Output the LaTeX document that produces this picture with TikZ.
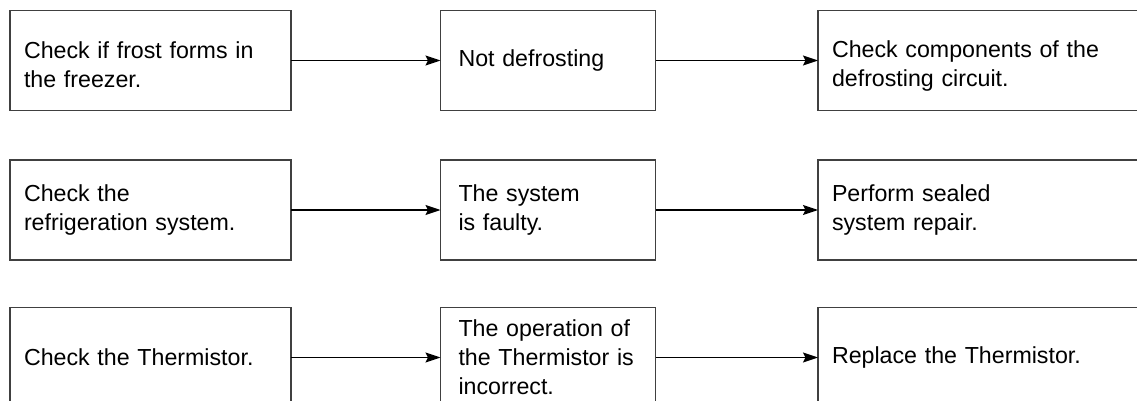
\documentclass[tikz,border=0pt]{standalone}
\usepackage{fontspec}
\setmainfont{Liberation Sans}
\usepackage{tikz}
\usetikzlibrary{arrows.meta}

\tikzset{
  stepbox/.style={draw=black!75, line width=1.3pt, anchor=west, outer sep=0pt,
    minimum height=100pt, inner ysep=0pt, align=left,
    font=\fontsize{23.2}{29}\selectfont},
  widebox/.style={stepbox, text width=253pt, inner xsep=14pt},
  midbox/.style={stepbox, text width=179pt, inner xsep=18pt},
  endbox/.style={stepbox, text width=312pt, inner xsep=14pt},
  flow/.style={line width=1.4pt, -{Stealth[length=15pt, width=10pt, inset=2.5pt]}}
}

\begin{document}
\begin{tikzpicture}[x=1pt, y=-1pt]
  \useasboundingbox (0,0) rectangle (1137,401);
  \clip (0,0) rectangle (1137,401);
  % first row
  \node[widebox, text height=25pt] (frost) at (10,60.5) {Check if frost forms in\\the freezer.};
  \node[midbox] (nodefrost) at (440.5,60.5) {Not defrosting};
  \node[endbox, text height=27pt] (circuit) at (818,60.5) {Check components of the\\defrosting circuit.};
  % second row
  \node[widebox] (refrig) at (10,210) {Check the\\refrigeration system.};
  \node[midbox] (faulty) at (440.5,210) {The system\\is faulty.};
  \node[endbox] (sealed) at (818,210) {Perform sealed\\system repair.};
  % third row
  \node[widebox] (thermo) at (10,357.5) {Check the Thermistor.};
  \node[midbox] (incorrect) at (440.5,357.5) {The operation of\\\mbox{the Thermistor is}\\incorrect.};
  \node[endbox] (replace) at (818,357.5) {Replace the Thermistor.};

  \draw[flow] (frost) -- (nodefrost);
  \draw[flow] (nodefrost) -- (circuit);
  \draw[flow] (refrig) -- (faulty);
  \draw[flow] (faulty) -- (sealed);
  \draw[flow] (thermo) -- (incorrect);
  \draw[flow] (incorrect) -- (replace);
\end{tikzpicture}
\end{document}
